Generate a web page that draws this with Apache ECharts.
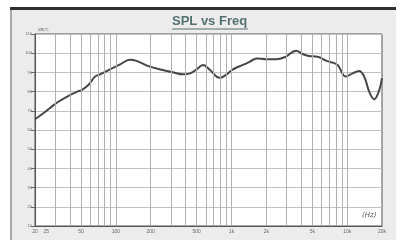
<!DOCTYPE html>
<html><head><meta charset="utf-8">
<script src="https://cdn.jsdelivr.net/npm/echarts@6/dist/echarts.min.js"></script>
<style>html,body{margin:0;padding:0;background:#fff}#c{width:406px;height:240px}</style>
</head><body><div id="c"></div>
<script>
var freqs = [20, 23.6, 27, 31.8, 37.6, 45.8, 50.7, 57.8, 66, 73, 89, 109, 132, 151, 197, 255, 312, 380, 438, 500, 566, 652, 743, 794, 908, 1028, 1256, 1442, 1648, 2012, 2420, 2952, 3606, 4122, 4668, 5550, 6546, 7480, 8260, 9750, 11140, 12700, 14030, 15500, 17140, 18920, 20000];
var spl = [65.6, 68.7, 71.5, 74.7, 77.3, 79.9, 80.8, 83.4, 87.8, 89, 91.6, 94.2, 96.6, 96, 93, 91.2, 90.1, 89, 89.5, 91.6, 93.9, 91.2, 87.8, 87.2, 89, 91.6, 93.9, 95.6, 97.3, 96.8, 96.8, 98.2, 101.3, 99.6, 98.5, 98.2, 96.1, 95.1, 93.9, 87.8, 89.5, 90.7, 87.8, 80, 76, 80.8, 87];
var gridFreqs = [30,40,50,60,70,80,90,100,200,300,400,500,600,700,800,900,1000,2000,3000,4000,5000,6000,7000,8000,9000,10000];
var xLabelFreqs = [20, 25, 50, 100, 200, 500, 1000, 2000, 5000, 10000, 20000];
var xLabelTexts = ['20', '25', '50', '100', '200', '500', '1k', '2k', '5k', '10k', '20k'];
var yMin = 10, yMax = 110, yStep = 10;
var title = 'SPL vs Freq';
var yUnit = 'dB(?)';
var xUnit = '(Hz)';

var chart = echarts.init(document.getElementById('c'), null, {renderer: 'canvas'});
var gridLines = gridFreqs.map(function (f) { return {xAxis: f, label: {show: false}}; });
var labelMarks = xLabelFreqs.map(function (f, i) {
  return {xAxis: f, lineStyle: {color: 'rgba(0,0,0,0)'}, label: {show: true, formatter: xLabelTexts[i]}};
});
chart.setOption({
  backgroundColor: '#ffffff',
  animation: false,
  graphic: [
    {type: 'rect', z: -10, shape: {x: 10, y: 8, width: 386, height: 232}, style: {fill: '#ececec'}},
    {type: 'rect', z: -9, shape: {x: 10, y: 7, width: 386, height: 3}, style: {fill: '#2f2f2f'}},
    {type: 'rect', z: -9, shape: {x: 10, y: 10, width: 2, height: 230}, style: {fill: '#a8a8a8'}},
    {type: 'text', left: 172, top: 15, style: {text: title, font: 'bold 13px "Liberation Sans", Arial, sans-serif', fill: '#557070'}},
    {type: 'line', shape: {x1: 172, y1: 29, x2: 248, y2: 29}, style: {stroke: '#557070', lineWidth: 1}},
    {type: 'text', left: 38, top: 28, style: {text: yUnit, font: '4px "DejaVu Sans"', fill: '#666'}},
    {type: 'text', left: 362, top: 212, z: 10, style: {text: xUnit, font: 'italic 7px "DejaVu Sans"', fill: '#555'}}
  ],
  grid: {left: 35, right: 24, top: 34, bottom: 14, show: true, backgroundColor: '#ffffff', borderColor: '#555', borderWidth: 1},
  xAxis: {type: 'log', logBase: 10, min: 20, max: 20000,
    axisLine: {show: true, lineStyle: {color: '#555'}}, axisTick: {show: false}, axisLabel: {show: false}, splitLine: {show: false}},
  yAxis: {type: 'value', min: yMin, max: yMax, interval: yStep,
    axisLine: {show: true, lineStyle: {color: '#555'}},
    axisTick: {show: true, length: 4, lineStyle: {color: '#666'}},
    axisLabel: {fontSize: 4, color: '#666', margin: 3},
    splitLine: {show: true, lineStyle: {color: '#c0c0c0', width: 1}}},
  series: [
    {type: 'line', data: [], silent: true,
      markLine: {silent: true, symbol: 'none', animation: false,
        lineStyle: {color: '#b0b0b0', width: 1, type: 'solid'},
        label: {position: 'start', fontSize: 5, color: '#666', distance: 3},
        data: gridLines.concat(labelMarks)}},
    {type: 'line', data: freqs.map(function (f, i) { return [f, spl[i]]; }),
      smooth: 0.4, symbol: 'none', lineStyle: {color: '#454545', width: 2}}
  ]
});
</script></body></html>
